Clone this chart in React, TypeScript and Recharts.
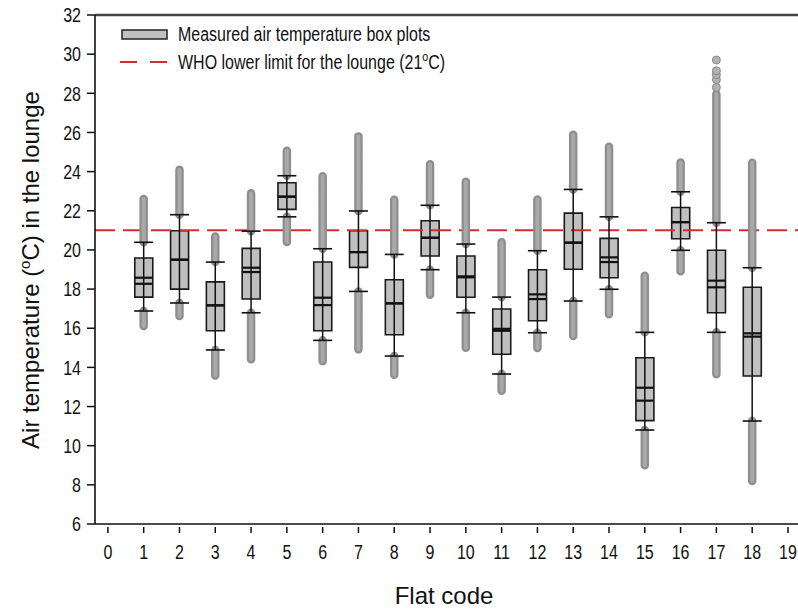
import { ComposedChart, XAxis, YAxis, Line, Bar, Scatter, ReferenceLine, Legend } from 'recharts'

const FONT = 'Arial, "Liberation Sans", sans-serif'

const flats = [1, 2, 3, 4, 5, 6, 7, 8, 9, 10, 11, 12, 13, 14, 15, 16, 17, 18]
const outlierLow = [16.11, 16.62, 13.59, 14.41, 20.4, 14.32, 14.92, 13.63, 17.71, 15.0, 12.81, 14.99, 15.6, 16.71, 9.0, 18.91, 13.65, 8.2]
const whiskerLow = [16.88, 17.29, 14.89, 16.79, 21.69, 15.38, 17.88, 14.58, 18.99, 16.79, 13.66, 15.77, 17.39, 17.99, 10.8, 19.98, 15.79, 11.26]
const q1 = [17.59, 18.0, 15.87, 17.49, 22.07, 15.87, 19.11, 15.67, 19.69, 17.58, 14.67, 16.38, 19.01, 18.58, 11.28, 20.57, 16.79, 13.56]
const median = [18.27, 19.5, 17.17, 18.87, 22.72, 17.18, 19.89, 17.27, 20.62, 18.6, 15.87, 17.49, 20.37, 19.38, 12.3, 21.42, 18.09, 15.57]
const mean = [18.58, 19.5, 17.17, 19.09, 22.72, 17.56, 19.89, 17.27, 20.62, 18.65, 15.97, 17.73, 20.37, 19.62, 12.96, 21.42, 18.43, 15.74]
const q3 = [19.59, 20.98, 18.37, 20.08, 23.43, 19.38, 20.98, 18.48, 21.49, 19.69, 16.98, 18.99, 21.88, 20.59, 14.49, 22.17, 19.98, 18.09]
const whiskerHigh = [20.39, 21.8, 19.38, 20.96, 23.79, 20.06, 21.99, 19.77, 22.28, 20.3, 17.59, 19.96, 23.09, 21.69, 15.79, 22.97, 21.39, 19.09]
const outlierHigh = [22.6, 24.09, 20.69, 22.89, 25.07, 23.76, 25.8, 22.56, 24.37, 23.48, 20.39, 22.58, 25.88, 25.27, 18.68, 24.47, 27.96, 24.45]

// the few separate points above the flat 17 column
const flat17Extremes = [28.3, 28.7, 28.95, 29.15, 29.7]

const xTicks = [0, 1, 2, 3, 4, 5, 6, 7, 8, 9, 10, 11, 12, 13, 14, 15, 16, 17, 18, 19]
const yTicks = [6, 8, 10, 12, 14, 16, 18, 20, 22, 24, 26, 28, 30, 32]
const whoLimit = 21

const boxRows = flats.map((x, i) => ({ x, box: [q1[i], q3[i]] }))
const whiskerSegs = flats.flatMap((x, i) => [
    { x, y: whiskerLow[i] },
    { x, y: whiskerHigh[i] },
    { x, y: null },
])
const outlierSegs = flats.flatMap((x, i) => [
    { x, y: outlierLow[i] },
    { x, y: whiskerLow[i] },
    { x, y: null },
    { x, y: whiskerHigh[i] },
    { x, y: outlierHigh[i] },
    { x, y: null },
])
const capPts = flats.flatMap((x, i) => [
    { x, y: whiskerLow[i] },
    { x, y: whiskerHigh[i] },
])
const medianPts = flats.map((x, i) => ({ x, y: median[i] }))
const meanPts = flats.map((x, i) => ({ x, y: mean[i] }))
const extremePts = flat17Extremes.map((y) => ({ x: 17, y }))

const hLine = (w: number, sw: number) => (p: any) => (
    <line x1={p.cx - w / 2} x2={p.cx + w / 2} y1={p.cy} y2={p.cy} stroke="#111" strokeWidth={sw} />
)

const dot = (p: any) => (
    <circle cx={p.cx} cy={p.cy} r={4} fill="#b2b2b2" stroke="#888" strokeWidth={1} />
)

const XTick = ({ x, y, payload }: any) => (
    <g>
        <line x1={x} x2={x} y1={y + 3} y2={y + 9} stroke="#111" strokeWidth={1.5} />
        <text
            transform={`translate(${x},${y + 35}) scale(0.8,1)`}
            textAnchor="middle"
            fontSize={20}
            fontFamily={FONT}
            fill="#111"
        >
            {payload.value}
        </text>
    </g>
)

const YTick = ({ x, y, payload }: any) => (
    <text
        transform={`translate(${x - 6},${y + 7.2}) scale(0.8,1)`}
        textAnchor="end"
        fontSize={20}
        fontFamily={FONT}
        fill="#111"
    >
        {payload.value}
    </text>
)

const LegendBox = () => (
    <svg width={560} height={80}>
        <rect x={122} y={30} width={45} height={9} fill="#c0c0c0" stroke="#222" strokeWidth={1.5} />
        <text transform="translate(178,41) scale(0.82,1)" fontSize={19.5} fontFamily={FONT} fill="#111">
            Measured air temperature box plots
        </text>
        <line x1={120} x2={167} y1={62} y2={62} stroke="#d23030" strokeWidth={2} strokeDasharray="17 13" />
        <text transform="translate(178,69) scale(0.82,1)" fontSize={19.5} fontFamily={FONT} fill="#111">
            WHO lower limit for the lounge (21
            <tspan dy={-8} fontSize={13}>o</tspan>
            <tspan dy={8}>C)</tspan>
        </text>
    </svg>
)

export default function App() {
    return (
        <div style={{ position: 'absolute', left: 0, top: 0, background: '#fff' }}>
            <ComposedChart
                width={798}
                height={609}
                data={boxRows}
                margin={{ top: 15, right: 0, bottom: 55, left: 35 }}
            >
                <XAxis
                    dataKey="x"
                    type="number"
                    domain={[-0.36, 19.28]}
                    allowDataOverflow
                    ticks={xTicks}
                    interval={0}
                    axisLine={{ stroke: '#111', strokeWidth: 1.6 }}
                    tickLine={false}
                    tickSize={0}
                    tickMargin={0}
                    tick={<XTick />}
                    height={30}
                    label={{
                        content: () => (
                            <text x={444} y={604} textAnchor="middle" fontSize={24} fontFamily={FONT} fill="#111">
                                Flat code
                            </text>
                        ),
                    }}
                />
                <YAxis
                    type="number"
                    domain={[6, 32]}
                    allowDataOverflow
                    ticks={yTicks}
                    interval={0}
                    width={60}
                    axisLine={{ stroke: '#111', strokeWidth: 1.6 }}
                    tickLine={{ stroke: '#111', strokeWidth: 1.5 }}
                    tickSize={8}
                    tickMargin={0}
                    tick={<YTick />}
                    label={{
                        content: () => (
                            <text
                                transform="translate(39,270) rotate(-90)"
                                textAnchor="middle"
                                fontSize={24}
                                fontFamily={FONT}
                                fill="#111"
                            >
                                Air temperature (<tspan dy={-9} fontSize={15}>o</tspan>
                                <tspan dy={9}>C) in the lounge</tspan>
                            </text>
                        ),
                    }}
                />
                <Legend
                    layout="horizontal"
                    align="center"
                    verticalAlign="middle"
                    wrapperStyle={{ left: 0, top: 0, width: 560, height: 80 }}
                    content={() => <LegendBox />}
                />
                <ReferenceLine y={whoLimit} stroke="#d23030" strokeWidth={2} strokeDasharray="20 8" />
                <ReferenceLine y={32} stroke="#454545" strokeWidth={2.5} />
                <Line
                    data={outlierSegs}
                    dataKey="y"
                    stroke="#8e8e8e"
                    strokeWidth={8.5}
                    strokeLinecap="round"
                    dot={false}
                    activeDot={false}
                    isAnimationActive={false}
                />
                <Line
                    data={outlierSegs}
                    dataKey="y"
                    stroke="#a9a9a9"
                    strokeWidth={4}
                    strokeLinecap="round"
                    dot={false}
                    activeDot={false}
                    isAnimationActive={false}
                />
                <Scatter data={extremePts} dataKey="y" shape={dot} isAnimationActive={false} />
                <Line
                    data={whiskerSegs}
                    dataKey="y"
                    stroke="#111"
                    strokeWidth={1.5}
                    dot={false}
                    activeDot={false}
                    isAnimationActive={false}
                />
                <Bar dataKey="box" barSize={18} fill="#c0c0c0" stroke="#1a1a1a" strokeWidth={1.6} isAnimationActive={false} />
                <Scatter data={capPts} dataKey="y" shape={hLine(19, 1.6)} isAnimationActive={false} />
                <Scatter data={medianPts} dataKey="y" shape={hLine(18, 2.2)} isAnimationActive={false} />
                <Scatter data={meanPts} dataKey="y" shape={hLine(18, 2.2)} isAnimationActive={false} />
            </ComposedChart>
        </div>
    )
}
